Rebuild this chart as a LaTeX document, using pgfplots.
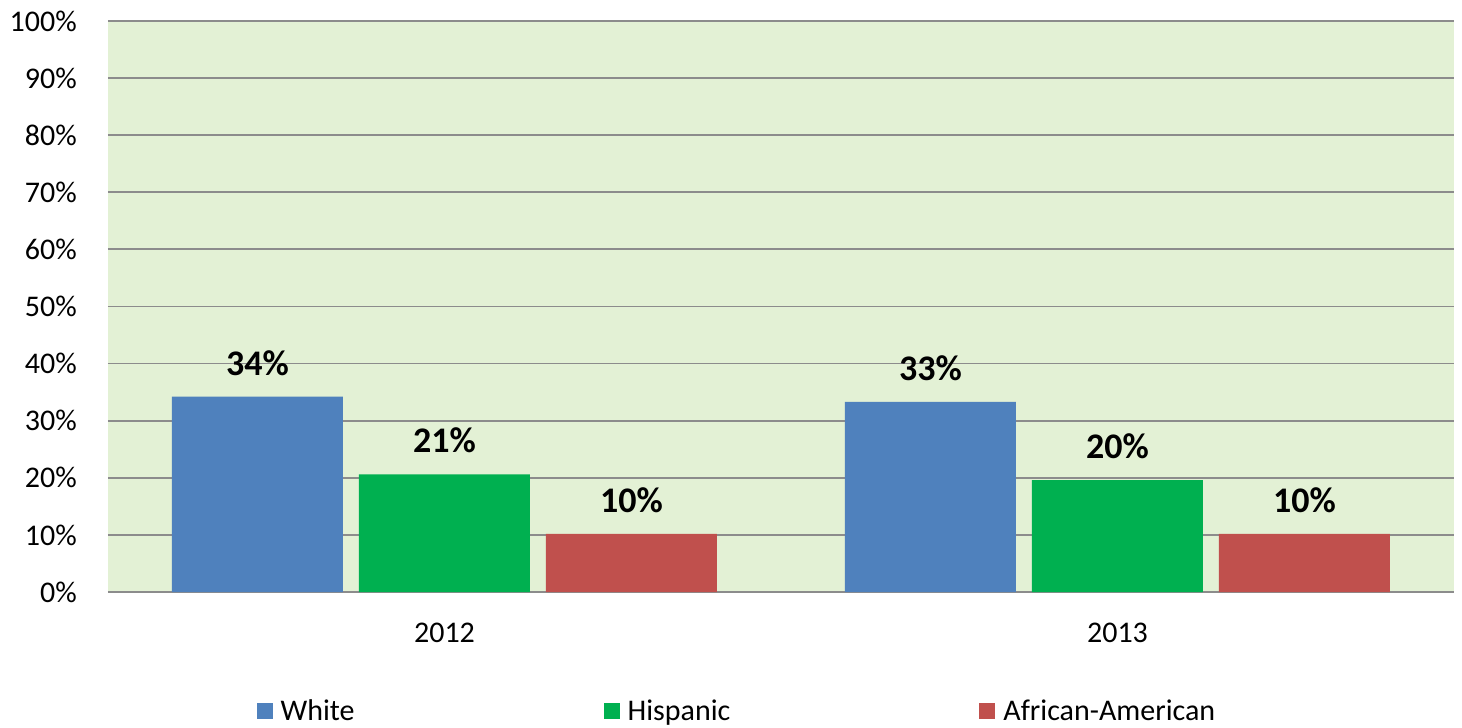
\documentclass[border=0pt]{standalone}
\usepackage{pgfplots}
\pgfplotsset{compat=1.18}
\usepackage{fontspec}
\setmainfont{Carlito}
\definecolor{cwhite}{HTML}{4F81BD}
\definecolor{chisp}{HTML}{00B050}
\definecolor{cafr}{HTML}{C0504D}
\definecolor{bgc}{HTML}{E3F1D5}
\definecolor{gridc}{HTML}{8C8C8C}
\begin{document}
\begin{tikzpicture}
\begin{axis}[
  at={(0pt,0pt)}, anchor=south west,
  scale only axis, width=1346pt, height=571pt,
  ybar=16pt, bar width=171pt,
  xmin=-0.5, xmax=1.5, ymin=0, ymax=100,
  xtick={0,1}, xticklabels={2012,2013},
  ytick={0,10,...,100},
  yticklabel={\pgfmathprintnumber{\tick}\%},
  /pgf/number format/assume math mode=true,
  axis lines*=left, axis line style={draw=none},
  major tick length=0pt,
  ymajorgrids, grid style={gridc, line width=1.8pt},
  axis background/.style={fill=bgc},
  tick label style={font=\fontsize{30}{36}\selectfont},
  yticklabel style={inner sep=0pt, xshift=-31pt},
  xticklabel style={inner sep=0pt, yshift=-31pt, anchor=north},
  point meta=explicit symbolic,
  nodes near coords,
  nodes near coords style={font=\fontsize{36}{40}\selectfont\bfseries, anchor=south, inner sep=0pt, yshift=21pt},
  legend image code/.code={\fill[#1] (0pt,-8pt) rectangle (16pt,8pt);},
  legend columns=3,
  legend style={draw=none, fill=none, font=\fontsize{30}{36}\selectfont,
    at={(0.4665,-0.2085)}, anchor=center,
    nodes={inner sep=0pt},
    /tikz/every odd column/.append style={column sep=8pt},
    /tikz/every even column/.append style={column sep=249pt}},
]
\addplot[fill=cwhite, draw=none] coordinates {(0,34.2) [34\%] (1,33.3) [33\%]};
\addplot[fill=chisp, draw=none] coordinates {(0,20.6) [21\%] (1,19.6) [20\%]};
\addplot[fill=cafr, draw=none] coordinates {(0,10.2) [10\%] (1,10.2) [10\%]};
\legend{White,Hispanic,African-American}
\end{axis}
\path[use as bounding box] (-108pt,-136pt) rectangle (1354pt,592pt);
\end{tikzpicture}
\end{document}
